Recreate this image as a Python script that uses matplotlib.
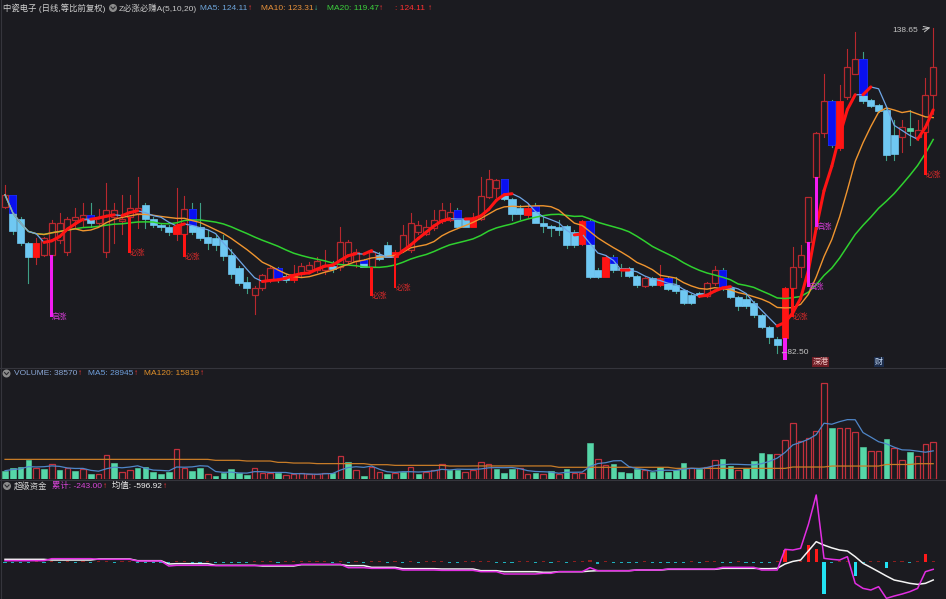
import numpy as np
import pandas as pd
import matplotlib
matplotlib.use('Agg')
import matplotlib.pyplot as plt
from matplotlib.patches import Rectangle, Ellipse
from matplotlib.lines import Line2D
from matplotlib.collections import LineCollection

plt.rcParams['font.family'] = ['Liberation Sans', 'Noto Sans CJK SC', 'DejaVu Sans']

# daily candles (forward adjusted)
opens = [
    107.7, 109.8, 105.7, 101.5, 99.1, 99.4, 99.4, 102.0, 100.0, 105.4,
    105.4, 106.3, 105.0, 100.0, 106.0, 105.2, 106.0, 106.6, 108.0, 105.6,
    104.6, 104.3, 103.1, 103.1, 107.3, 104.2, 102.6, 102.3, 102.0, 99.4,
    97.1, 94.8, 92.5, 93.7, 95.1, 97.1, 95.8, 95.1, 96.2, 96.8,
    96.8, 96.9, 97.5, 97.4, 98.3, 98.3, 98.5, 97.4, 99.4, 101.1,
    99.1, 100.3, 100.3, 103.4, 103.1, 104.0, 105.2, 105.4, 107.2, 105.6,
    104.3, 105.7, 109.5, 110.9, 112.5, 109.0, 107.6, 106.3, 107.9, 105.0,
    104.4, 104.3, 104.4, 103.4, 101.3, 105.2, 96.9, 95.7, 99.0, 97.1,
    97.1, 95.8, 94.1, 95.4, 94.2, 95.4, 94.2, 93.4, 92.5, 92.9,
    92.3, 94.5, 96.8, 93.7, 92.2, 91.9, 91.1, 89.0, 87.0, 85.0,
    85.1, 93.7, 97.3, 101.6, 112.9, 120.4, 125.9, 117.8, 126.7, 130.7,
    133.2, 126.1, 125.3, 124.5, 120.1, 119.8, 121.4, 119.8, 120.7, 127.0]
highs = [
    111.5, 109.8, 106.0, 101.7, 102.3, 102.6, 105.4, 106.7, 106.0, 107.6,
    108.3, 108.3, 107.3, 111.8, 108.3, 109.8, 109.8, 112.9, 108.3, 106.0,
    104.9, 104.6, 110.9, 109.6, 108.3, 108.3, 103.7, 102.9, 102.9, 100.5,
    97.5, 95.7, 94.0, 96.2, 97.4, 97.4, 96.2, 97.7, 98.0, 98.2,
    99.0, 100.3, 98.3, 104.3, 102.0, 100.5, 98.8, 100.3, 99.9, 101.7,
    100.3, 104.6, 106.6, 105.2, 105.4, 107.2, 108.3, 108.3, 107.5, 105.8,
    106.7, 112.9, 114.1, 112.5, 112.5, 109.2, 108.0, 108.3, 108.3, 106.0,
    104.6, 105.4, 104.6, 103.7, 105.4, 105.4, 97.2, 99.4, 99.4, 97.9,
    97.3, 96.0, 95.7, 95.6, 97.7, 95.7, 95.7, 93.6, 92.7, 93.1,
    94.8, 97.5, 97.1, 94.0, 92.4, 92.8, 91.4, 89.2, 87.2, 85.3,
    93.9, 100.8, 101.1, 109.5, 120.6, 130.7, 126.2, 128.7, 135.0, 137.9,
    134.5, 126.3, 125.5, 124.7, 122.7, 122.7, 124.4, 122.7, 129.9, 138.65]
lows = [
    107.5, 103.1, 101.1, 94.6, 97.9, 99.2, 96.8, 101.5, 99.4, 104.0,
    104.3, 104.3, 104.6, 99.1, 101.4, 103.1, 106.0, 104.0, 104.0, 104.3,
    103.8, 102.8, 102.0, 102.6, 103.1, 102.0, 100.5, 100.3, 98.5, 95.4,
    94.2, 92.8, 89.3, 93.4, 94.8, 94.8, 94.8, 94.8, 95.8, 96.4,
    96.5, 96.2, 96.5, 96.8, 98.0, 97.4, 97.3, 97.4, 98.5, 99.0,
    99.0, 100.0, 100.0, 103.1, 102.9, 103.7, 104.9, 105.2, 104.0, 104.2,
    104.2, 105.4, 109.2, 109.5, 108.9, 105.4, 105.6, 106.0, 104.9, 103.4,
    102.7, 102.9, 100.7, 100.8, 101.1, 95.5, 95.4, 95.6, 96.5, 95.8,
    95.6, 93.9, 93.9, 94.0, 94.0, 93.4, 92.8, 90.9, 90.9, 92.2,
    92.2, 94.2, 93.4, 92.0, 89.9, 90.2, 88.8, 86.8, 84.2, 82.5,
    84.7, 93.5, 95.6, 101.5, 112.9, 119.8, 118.1, 117.5, 126.4, 130.7,
    125.7, 124.9, 124.0, 115.8, 115.8, 117.2, 118.4, 119.2, 120.4, 123.8]
closes = [
    109.8, 103.6, 101.4, 99.1, 101.5, 102.3, 105.0, 105.0, 105.6, 106.0,
    106.3, 105.0, 106.0, 107.2, 107.2, 105.6, 107.6, 107.6, 105.6, 104.6,
    104.2, 103.3, 104.4, 107.3, 103.3, 102.3, 101.5, 101.1, 99.2, 96.2,
    94.6, 93.7, 93.7, 96.0, 97.1, 95.1, 95.1, 96.2, 97.5, 97.7,
    98.3, 97.7, 97.05, 101.7, 101.7, 100.0, 97.4, 100.0, 98.8, 99.0,
    100.0, 102.9, 104.9, 104.6, 104.3, 105.4, 107.2, 106.9, 104.3, 104.3,
    105.6, 109.6, 112.5, 112.3, 109.0, 106.5, 106.5, 107.6, 105.0, 104.4,
    104.0, 103.8, 101.1, 101.1, 105.2, 95.7, 95.7, 99.0, 96.8, 96.8,
    95.8, 94.2, 95.4, 94.2, 95.4, 93.5, 93.2, 91.1, 91.1, 92.5,
    94.5, 96.8, 93.7, 92.2, 90.6, 90.6, 89.0, 87.0, 85.3, 83.9,
    93.7, 97.3, 99.4, 109.4, 120.5, 125.9, 118.4, 125.9, 131.9, 133.2,
    125.9, 125.1, 124.3, 116.7, 116.9, 121.5, 120.8, 121.0, 127.0, 131.9]
# candle colour from the indicator: u hollow red, d light blue, b blue+light blue, r red, g green
candle_style = ("ubddruuuuu" "ubuuuuuudd" "ddrubddddd" "dduuubdruu" "uuduuubudd"
                "ruuuuuuubd" "ruuubddrbd" "ddddrbdrbd" "ddudrbdddd" "uubddddddd"
                "ruuuuubruu" "bdddduguuu")

# signal sticks under the candles
marker_idx = [6, 16, 23, 47, 50, 100, 101, 103, 104, 118]
marker_end = [88.8, 99.8, 99.0, 92.3, 93.7, 81.3, 88.7, 93.9, 104.2, 113.2]
marker_kind = ['q', 'b', 'b', 'b', 'b', 'q', 'b', 'q', 'q', 'b']
marker_label = ['启涨', '必涨', '必涨', '必涨', '必涨', '', '必涨', '启涨', '启涨', '必涨']

# volume
volumes = [
    8600, 11000, 12000, 19600, 11000, 10000, 15200, 9300, 11700, 8300,
    10300, 5200, 4800, 24500, 16500, 6900, 9300, 11000, 12000, 6900,
    5200, 6900, 31000, 11000, 8600, 11000, 4800, 3400, 6500, 10000,
    6500, 4100, 11000, 5900, 6500, 6500, 3800, 4800, 5900, 4800,
    5200, 6500, 5900, 23800, 17900, 9300, 3400, 12800, 6900, 5200,
    5900, 6900, 12800, 5200, 7600, 9300, 15200, 9300, 9300, 6900,
    9300, 17200, 15200, 10300, 6500, 10300, 11000, 5200, 5900, 5200,
    8300, 5200, 10300, 5900, 5900, 37600, 20300, 14500, 15500, 6900,
    6500, 10300, 9300, 6900, 12000, 6900, 9300, 16200, 11000, 10000,
    12800, 19600, 20300, 13800, 9300, 11000, 18600, 26500, 25900, 25900,
    40300, 57600, 39600, 42000, 49600, 99600, 52400, 53000, 52400, 48900,
    33400, 29000, 29000, 41400, 31700, 19600, 27600, 23800, 35800, 38570]
vol_dir = ("ggggrgrgrg" "rgrrgrrggg" "ggrrggrggg" "ggrrrgrrrr" "rrgrgrgrrg"
           "rgrgrrrggr" "rrrgggrrgr" "grgrrgrrgg" "ggrgggggrg" "rrggrggggr"
           "rrrrrrgrrr" "grrgrrgrrr")
vol_ma120 = [
    20300, 20300, 20300, 20300, 20300, 20300, 20300, 20300, 20300, 20300,
    20300, 20300, 20300, 20300, 20300, 20300, 20300, 20300, 20300, 20300,
    20300, 20300, 20300, 20300, 20300, 20300, 20300, 19300, 19300, 19300,
    19300, 18600, 18600, 18600, 18600, 17200, 17200, 16500, 16500, 16500,
    15900, 15900, 15900, 15900, 15900, 15900, 15900, 14800, 14800, 14800,
    14100, 14100, 14100, 14100, 14100, 14100, 14100, 13400, 13400, 13400,
    13500, 13500, 13500, 13500, 13500, 13500, 13500, 13500, 13500, 13500,
    13500, 12100, 12100, 12100, 12100, 12100, 12100, 12100, 12100, 12100,
    12100, 12100, 12100, 12100, 12100, 12100, 11000, 11000, 11000, 11000,
    11000, 11000, 11000, 11000, 11000, 11000, 11000, 11000, 11000, 11000,
    11000, 12400, 12400, 12400, 12400, 12400, 13400, 13400, 13400, 13400,
    13400, 13400, 13400, 15000, 15000, 15000, 15000, 15819, 15819, 15819]

# 超级资金
fund_bar = [
    -40, -40, -40, -40, 40, -40, 40, -40, 40, -40,
    40, -40, 40, 40, -40, 40, 40, -40, -40, -40,
    -40, -40, 40, 40, -40, -40, 40, -40, -40, -40,
    -40, -40, 40, 40, 40, -40, 40, 40, 40, 40,
    40, 40, -40, 40, -40, 40, -40, 40, 40, -40,
    40, -40, 40, -40, 40, 40, 40, -40, -40, 40,
    40, 40, 40, -40, -40, -40, 40, 40, -40, 40,
    -40, 40, -40, 40, 40, 60, -70, 40, -40, -40,
    -40, -40, 40, -40, -40, -40, -40, -40, 40, -40,
    40, 40, -40, -40, 40, -40, -40, -40, -40, 40,
    400, 40, 40, 565, 420, -1060, -40, 40, 40, -465,
    -40, 40, 40, -210, 40, 40, -40, 40, 265, 40]
fund_cum = [
    44, 44, 44, 44, 44, 44, 110, 110, 110, 110,
    110, 110, 90, 90, 90, 90, 90, 33, 33, 33,
    33, -133, -110, -110, -110, -110, -110, -120, -120, -120,
    -120, -120, -120, -110, -110, -110, -110, -110, -77, -77,
    -77, -77, -77, -77, -188, -188, -188, -210, -210, -210,
    -210, -266, -266, -266, -266, -266, -277, -277, -277, -277,
    -277, -321, -321, -321, -398, -398, -398, -398, -398, -375,
    -375, -321, -321, -321, -321, -188, -290, -290, -290, -290,
    -290, -266, -266, -266, -266, -232, -232, -232, -232, -232,
    -232, -232, -177, -177, -177, -177, -177, -266, -266, -266,
    421, 398, 454, 1250, 2225, 122, 89, 66, 177, -708,
    -875, -930, -819, -1207, -1129, -1063, -985, -875, -321, -243]
fund_avg = [
    89, 89, 89, 89, 89, 89, 66, 66, 66, 66,
    66, 66, 100, 100, 100, 100, 100, 44, 44, 44,
    44, -66, -55, -55, -55, -55, -55, -110, -110, -110,
    -110, -110, -110, -133, -133, -133, -133, -133, -88, -88,
    -88, -88, -88, -88, -120, -120, -120, -177, -177, -177,
    -177, -221, -221, -221, -221, -221, -232, -232, -232, -232,
    -232, -288, -288, -288, -321, -321, -321, -321, -321, -343,
    -343, -321, -321, -321, -321, -300, -288, -288, -288, -288,
    -288, -266, -266, -266, -266, -243, -243, -243, -243, -243,
    -243, -243, -210, -210, -210, -210, -210, -221, -221, -210,
    -66, 20, 66, 370, 675, 560, 470, 398, 365, 177,
    -44, -180, -321, -465, -598, -650, -708, -742, -708, -597]

W, H = 946, 599
bg = '#1b1b20'

def fx(x):
    return x / W

def fy(y):
    return 1 - y / H

n = len(closes)
idx = np.arange(n)
close_s = pd.Series(closes)
ma5 = close_s.rolling(5, min_periods=1).mean().values
ma10 = close_s.rolling(10, min_periods=1).mean().values
ma20 = close_s.rolling(20, min_periods=1).mean().values
vol_ma5 = pd.Series(volumes).rolling(5, min_periods=1).mean().values

fig = plt.figure(figsize=(W / 100, H / 100), dpi=100, facecolor=bg)
ax1 = fig.add_axes([0, fy(367), 1, 353 / H])
ax2 = fig.add_axes([0, fy(479), 1, 100 / H])
ax3 = fig.add_axes([0, 0, 1, 107 / H])
for ax in (ax1, ax2, ax3):
    ax.set_facecolor(bg)
    ax.set_xlim(-0.641, 120.64)
    ax.axis('off')
ax1.set_ylim(80.09, 140.98)
ax2.set_ylim(0, 103400)
ax3.set_ylim(-1228, 2324)

red_edge = '#b8282e'
light_blue = '#6fc8f2'
teal = '#56d6a8'

# ---- candles
for i in range(n):
    o, h, l, c, st = opens[i], highs[i], lows[i], closes[i], candle_style[i]
    top, bot = max(o, c), min(o, c)
    wick_col = red_edge if st in 'ur' else '#3f9f86'
    ax1.plot([i, i], [top, h], color=wick_col, lw=0.8, zorder=2)
    ax1.plot([i, i], [l, bot], color=wick_col, lw=0.8, zorder=2)
    hgt = max(top - bot, 0.15)
    if st == 'u':
        ax1.add_patch(Rectangle((i - 0.38, bot), 0.76, hgt, facecolor=bg,
                                edgecolor=red_edge, lw=0.9, zorder=3))
    elif st == 'r':
        ax1.add_patch(Rectangle((i - 0.42, bot), 0.84, hgt, facecolor='#ff1414',
                                edgecolor='#ff1414', lw=0.6, zorder=3))
    elif st == 'g':
        ax1.add_patch(Rectangle((i - 0.42, bot), 0.84, hgt, facecolor=teal,
                                edgecolor=teal, lw=0.5, zorder=3))
    else:
        ax1.add_patch(Rectangle((i - 0.47, bot), 0.94, hgt, facecolor=light_blue,
                                edgecolor=light_blue, lw=0.5, zorder=3))
        if st == 'b':
            split = min(o, max(c, ma5[i]))
            if o - split < 0.6:
                split = bot + 0.55 * (top - bot)
            ax1.add_patch(Rectangle((i - 0.47, split), 0.94, o - split,
                                    facecolor='#0a10f0', edgecolor='#0a10f0',
                                    lw=0.5, zorder=4))

# ---- moving averages
ax1.plot(idx, ma20, color='#2fd12f', lw=1.1, zorder=5)
ax1.plot(idx, ma10, color='#f0952f', lw=1.0, zorder=5)
ax1.plot(idx, ma5, color='#6ea6e6', lw=0.9, zorder=5)
rising = [[(i - 1, ma5[i - 1]), (i, ma5[i])] for i in range(1, n) if ma5[i] > ma5[i - 1]]
ax1.add_collection(LineCollection(rising, colors='#ff1414', linewidths=2.2,
                                  capstyle='round', zorder=6))

# ---- signal sticks and labels
for i, end, kind, lab in zip(marker_idx, marker_end, marker_kind, marker_label):
    top = min(opens[i], closes[i])
    if kind == 'q':
        col, tcol, w = '#f21cf2', '#d03cd0', 0.42
    else:
        col, tcol, w = '#ff1414', '#d42a2a', 0.34
    ax1.add_patch(Rectangle((i - w / 2, end), w, top - end, facecolor=col,
                            edgecolor=col, lw=0, zorder=7))
    if lab:
        ax1.text(i + 0.05, end, lab, color=tcol, fontsize=5.6, ha='left',
                 va='center', zorder=8)

# extreme price labels
fig.text(fx(918), fy(31), '138.65', color='#c4c4c4', fontsize=6, ha='right', va='center')
ax1.annotate('', xy=(933, H - 27), xytext=(920, H - 30), xycoords='figure pixels',
             textcoords='figure pixels',
             arrowprops=dict(arrowstyle='->', color='#c4c4c4', lw=0.7))
fig.text(fx(779), fy(353), '←82.50', color='#c4c4c4', fontsize=6, ha='left', va='center')

# event tags at the bottom of the price panel
fig.text(fx(820.5), fy(362), '深港', color='#f4c8c8', fontsize=5.8, ha='center', va='center',
         bbox=dict(boxstyle='square,pad=0.12', fc='#6e1c24', ec='none'))
fig.text(fx(879), fy(362), '财', color='#c8dcf6', fontsize=5.8, ha='center', va='center',
         bbox=dict(boxstyle='square,pad=0.12', fc='#1c2c4a', ec='none'))

# ---- volume panel
for i in range(n):
    if vol_dir[i] == 'r':
        ax2.add_patch(Rectangle((i - 0.36, 0), 0.72, volumes[i], facecolor=bg,
                                edgecolor='#c2303c', lw=0.9))
    else:
        ax2.add_patch(Rectangle((i - 0.37, 0), 0.74, volumes[i], facecolor=teal,
                                edgecolor=teal, lw=0.4))
ax2.plot(idx, vol_ma120, color='#c87c28', lw=0.9)
ax2.plot(idx, vol_ma5, color='#4f86c8', lw=0.9)

# ---- 超级资金 panel
for i in range(n):
    v = fund_bar[i]
    if v > 0:
        col = '#ff1a1a' if v > 100 else '#8e1e1e'
    else:
        col = '#22e2f2' if v < -100 else '#1fb0bc'
    ax3.bar(i, v, width=0.42, color=col, linewidth=0)
ax3.plot(idx, fund_avg, color='#f4f4f4', lw=1.1)
ax3.plot(idx, fund_cum, color='#e22ee2', lw=1.1)

# ---- separators
for y in (368, 480):
    fig.add_artist(Line2D([0, 1], [fy(y), fy(y)], color='#35353c', lw=0.8))
fig.add_artist(Line2D([fx(0.8), fx(0.8)], [0, 1], color='#35353c', lw=0.8))

# ---- header texts
renderer = fig.canvas.get_renderer()

def icon(x, y):
    fig.add_artist(Ellipse((fx(x), fy(y)), 8 / W, 8 / H, transform=fig.transFigure,
                           facecolor='#8c8c8c', edgecolor='none'))
    fig.add_artist(Line2D([fx(x - 2), fx(x), fx(x + 2)], [fy(y - 1), fy(y + 1.2), fy(y - 1)],
                          color='#2a2a2e', lw=0.8))

def head_row(x, y, parts):
    # each part: text, colour, gap in pixels before it
    for s, col, gap in parts:
        t = fig.text(fx(x + gap), fy(y), s, color=col, fontsize=6, ha='left', va='center')
        x = t.get_window_extent(renderer).x1

up_red = '#ff3838'
head_row(3, 8, [('中瓷电子 (日线,等比前复权)', '#d2d2d2', 0)])
icon(113, 8)
head_row(119, 8, [('Z必涨必赚A(5,10,20)', '#c8c8c8', 0)])
head_row(200, 8, [('MA5: 124.11', '#6ea6dc', 0), ('↑', up_red, 1),
                  ('MA10: 123.31', '#e8913a', 8), ('↓', '#3ec8a0', 1),
                  ('MA20: 119.47', '#3ccf3c', 8), ('↑', up_red, 1),
                  (': 124.11', '#ff3030', 11), ('↑', up_red, 3)])

icon(6.5, 373.5)
head_row(14, 373.5, [('VOLUME: 38570', '#8aa6d4', 0), ('↑', up_red, 1),
                     ('MA5: 28945', '#6f9fdc', 5), ('↑', up_red, 1),
                     ('MA120: 15819', '#e0902a', 6), ('↑', up_red, 1)])

icon(7, 486)
head_row(14, 486, [('超级资金', '#d2d2d2', 0), ('累计: -243.00', '#d845d8', 4),
                   ('↑', up_red, 1), ('均值: -596.92', '#f0f0f0', 5), ('↑', up_red, 1)])

fig.savefig('out.png', dpi=100, facecolor=bg)
